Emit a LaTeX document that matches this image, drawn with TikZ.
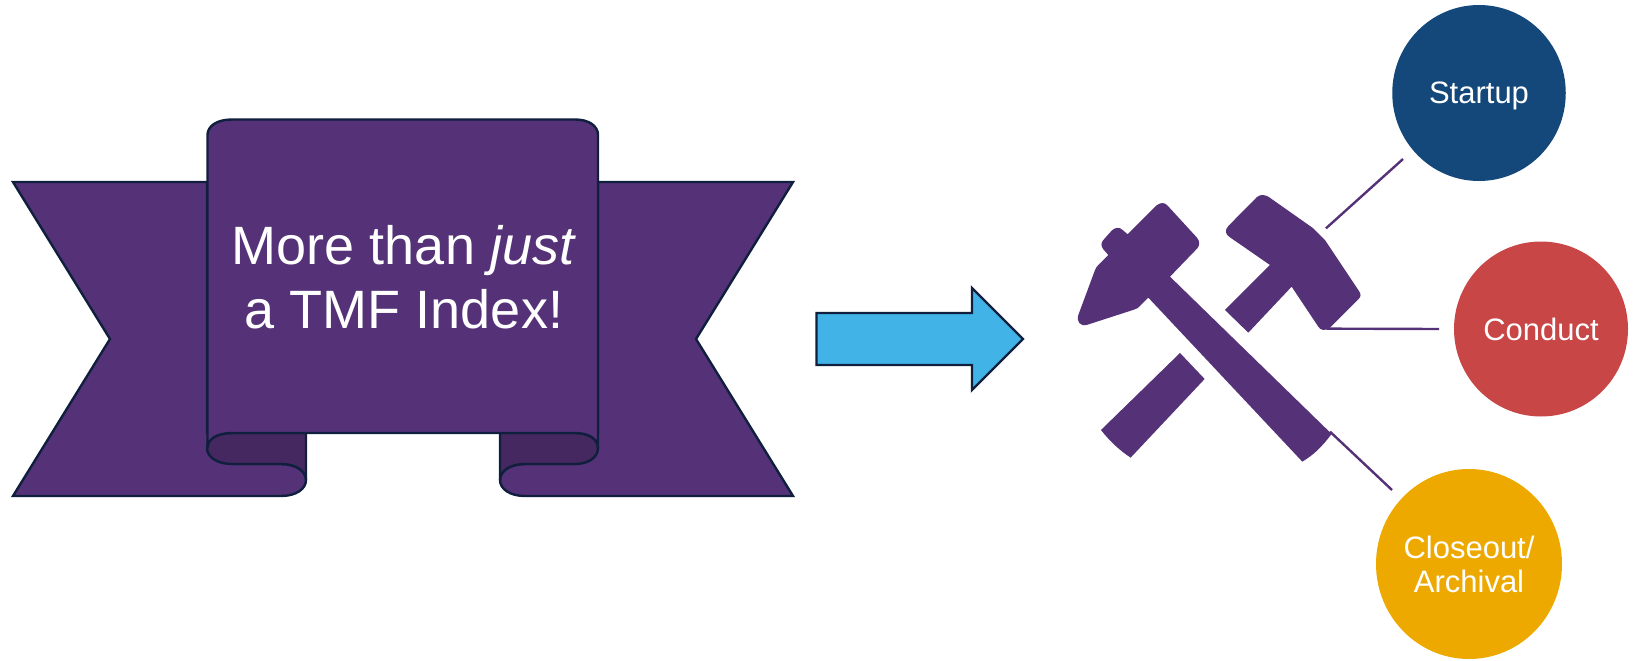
\documentclass[tikz,border=0pt]{standalone}
\usepackage{fontspec}
\usetikzlibrary{shapes.geometric}
\setmainfont{Liberation Sans}
\definecolor{rib}{HTML}{553278}
\definecolor{ribdark}{HTML}{452860}
\definecolor{edge}{HTML}{0F1F3D}
\definecolor{arrowblue}{HTML}{41B3E6}
\definecolor{navy}{HTML}{14487A}
\definecolor{brick}{HTML}{C84646}
\definecolor{amber}{HTML}{EDA900}
\tikzset{
  ribbon/.style={fill=rib,draw=edge,line width=2.4pt,line join=miter},
  fold/.style={fill=ribdark,draw=edge,line width=2.4pt},
  phase/.style={ellipse,inner sep=0pt,text=white,align=center,font=\fontsize{31}{34}\selectfont},
  link/.style={draw=rib,line width=2.4pt},
}
\begin{document}
\begin{tikzpicture}[x=1pt,y=-1pt]
\useasboundingbox (0,0) rectangle (1639,661);
% ribbon tails
\path[ribbon] (207,182) -- (13,182) -- (110,339) -- (13,496) -- (281,496)
  .. controls (296,496) and (306,489) .. (306,480)
  .. controls (306,471) and (296,464) .. (281,464) -- (232,464) -- (232,433) -- (207,433) -- cycle;
\path[ribbon] (598,182) -- (793,182) -- (696,339) -- (793,496) -- (525,496)
  .. controls (510,496) and (500,489) .. (500,480)
  .. controls (500,471) and (510,464) .. (525,464) -- (575,464) -- (575,433) -- (598,433) -- cycle;
% folds
\path[fold] (232,433) -- (306,433) -- (306,480)
  .. controls (306,471) and (296,464) .. (281,464) -- (232,464)
  .. controls (217,464) and (207,457) .. (207,448)
  .. controls (207,439) and (217,433) .. (232,433) -- cycle;
\path[fold] (575,433) -- (500,433) -- (500,480)
  .. controls (500,471) and (510,464) .. (525,464) -- (575,464)
  .. controls (589,464) and (598,457) .. (598,448)
  .. controls (598,439) and (589,433) .. (575,433) -- cycle;
% central panel
\path[ribbon] (207.5,135)
  .. controls (207.5,126) and (217,119.5) .. (232,119.5) -- (575,119.5)
  .. controls (589,119.5) and (598,126) .. (598,135) -- (598,448)
  .. controls (598,439) and (589,433) .. (575,433) -- (232,433)
  .. controls (217,433) and (207.5,439) .. (207.5,448) -- cycle;
\node[text=white,align=center,font=\fontsize{54}{64}\selectfont] (title) at (404,277)
  {More than \textit{just}\\a TMF Index!};
% arrow
\path[fill=arrowblue,draw=edge,line width=2.4pt] (816.5,313) -- (972,313) -- (972,288) -- (1023,339)
  -- (972,390) -- (972,365) -- (816.5,365) -- cycle;
% hammers
\begin{scope}[shift={(1050,180)},x=0.3333pt,y=-0.3333pt]
\fill[rib] (233,163) -- (320,76) .. controls (332,66) and (345,68) .. (352,76)
  -- (440,172) .. controls (450,183) and (450,195) .. (442,205) -- (360,290)
  -- (845,762) .. controls (812,805) and (790,825) .. (757,845) -- (295,353) -- (270,378)
  .. controls (265,384) and (260,386) .. (255,388)
  -- (110,435) .. controls (92,440) and (78,425) .. (85,405) -- (135,270)
  .. controls (138,263) and (141,259) .. (145,255) -- (175,225) -- (160,208)
  .. controls (152,198) and (153,188) .. (160,180) -- (185,152)
  .. controls (195,142) and (208,140) .. (218,150) -- cycle;
\fill[rib] (660,255) -- (540,172) .. controls (525,163) and (524,150) .. (535,138)
  -- (620,52) .. controls (630,43) and (642,43) .. (655,50) -- (790,145) -- (825,180)
  -- (925,330) .. controls (935,343) and (933,350) .. (925,358) -- (840,443)
  .. controls (825,455) and (810,450) .. (805,440) -- (725,320) -- (595,458) -- (525,390) -- cycle;
\fill[rib] (390,519) -- (464,597) -- (242,833) .. controls (210,812) and (180,785) .. (153,750) -- cycle;
\coordinate (h1) at (828,145);
\coordinate (h2) at (830,446);
\coordinate (h3) at (840,755);
\end{scope}
% circles
\node[phase,fill=navy,minimum width=173.5pt,minimum height=176pt,text depth=0pt] (startup) at (1479,93) {Startup};
\node[phase,fill=brick,minimum width=174pt,minimum height=175pt] (conduct) at (1541,329) {Conduct};
\node[phase,fill=amber,minimum width=186pt,minimum height=190pt] (closeout) at (1469,564) {Closeout/\\Archival};
\coordinate (s1) at (1403,159);
\coordinate (c1) at (1439,329);
\coordinate (a1) at (1392,490);
\draw[link] (h1) -- (s1);
\draw[link] (h2) -- (c1);
\draw[link] (h3) -- (a1);
\end{tikzpicture}
\end{document}
